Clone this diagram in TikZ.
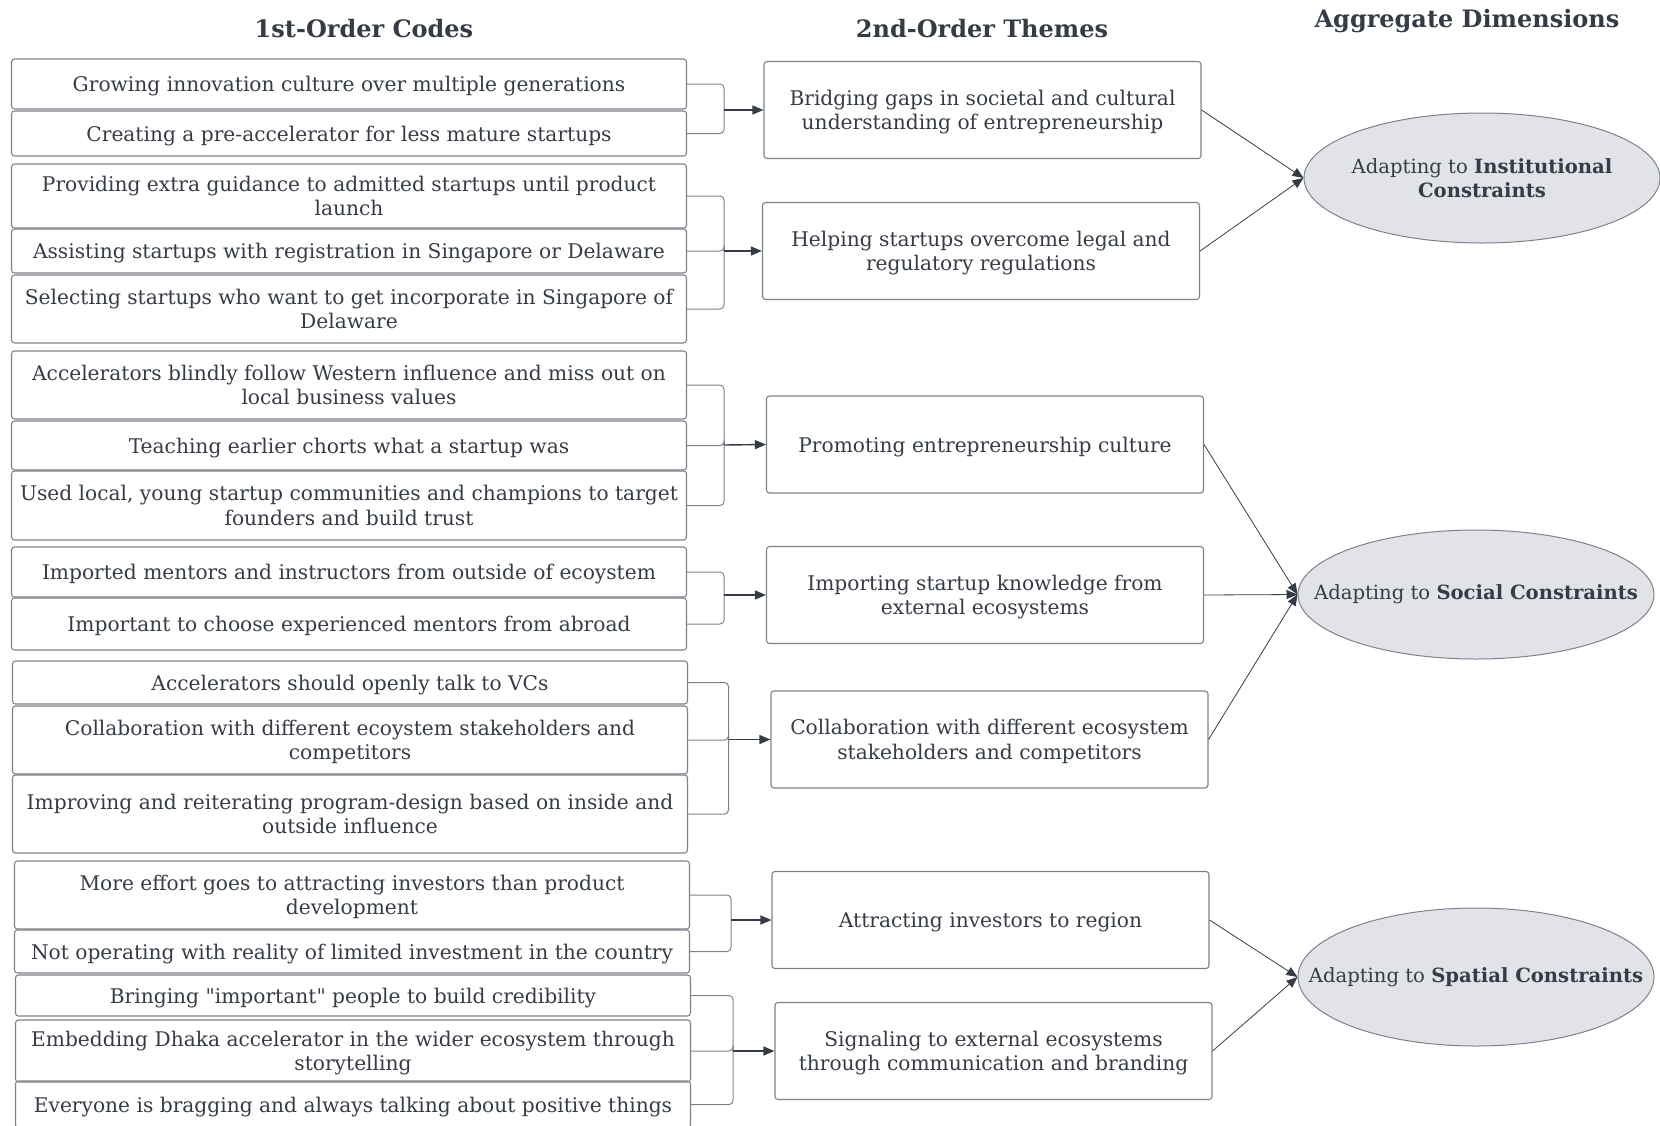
\documentclass[tikz,border=0pt]{standalone}
\usepackage{fontspec}
\setmainfont{DejaVu Serif}
\usetikzlibrary{
	arrows.meta,
	shapes.geometric,
	positioning
}
\definecolor{InkGray}{HTML}{363C45}
\definecolor{EdgeGray}{HTML}{7D828A}
\definecolor{FillGray}{HTML}{E1E3E8}
\newcommand{\boxfont}{\fontsize{20.2}{24.5}\selectfont}
\newcommand{\dimfont}{\fontsize{19.6}{24.5}\selectfont}
\newcommand{\headfont}{\fontsize{24}{28}\selectfont\bfseries}

\begin{document}
\begin{tikzpicture}[x=1pt, y=-1pt,
	code/.style={draw=EdgeGray, line width=1.1pt, rounded corners=3pt, minimum width=675pt,
		inner sep=0pt, text depth=0pt, align=center, text=InkGray, font=\boxfont},
	theme/.style={code, minimum width=437pt, minimum height=97pt},
	dimbox/.style={ellipse, draw=EdgeGray, line width=1pt, fill=FillGray, minimum width=356pt,
		inner sep=-60pt, align=center, text=InkGray, font=\dimfont},
	head/.style={text=InkGray, font=\headfont},
	bracket/.style={draw=EdgeGray, line width=1pt, rounded corners=4pt},
	feed/.style={draw=InkGray, line width=1.4pt, -{Triangle[length=11pt, width=9pt]}},
	link/.style={draw=InkGray, line width=0.8pt, -{Triangle[length=11pt, width=9pt]}}
]
	\useasboundingbox (0,0) rectangle (1660,1125);
	\clip (0,0) rectangle (1660,1125);

	% column headings
	\node[head] (h1) at (364,29) {1st-Order Codes};
	\node[head] (h2) at (982,29) {2nd-Order Themes};
	\node[head] (h3) at (1467,21) {Aggregate Dimensions};

	% 1st-order codes
	\node[code, minimum height=50pt] (c1) at (349,84) {Growing innovation culture over multiple generations};
	\node[code, minimum height=45pt] (c2) at (349,133.5) {Creating a pre-accelerator for less mature startups};
	\node[code, minimum height=64pt] (c3) at (349,196) {Providing extra guidance to admitted startups until product\\launch};
	\node[code, minimum height=44pt] (c4) at (349,251) {Assisting startups with registration in Singapore or Delaware};
	\node[code, minimum height=68pt] (c5) at (349,309) {Selecting startups who want to get incorporate in Singapore of\\Delaware};
	\node[code, minimum height=68pt] (c6) at (349,385) {Accelerators blindly follow Western influence and miss out on\\local business values};
	\node[code, minimum height=49pt] (c7) at (349,445.5) {Teaching earlier chorts what a startup was};
	\node[code, minimum height=69pt] (c8) at (349,505.5) {Used local, young startup communities and champions to target\\founders and build trust};
	\node[code, minimum height=50pt] (c9) at (349,572) {Imported mentors and instructors from outside of ecoystem};
	\node[code, minimum height=52pt] (c10) at (349,624) {Important to choose experienced mentors from abroad};
	\node[code, minimum height=43pt] (c11) at (350,682.5) {Accelerators should openly talk to VCs};
	\node[code, minimum height=68pt] (c12) at (350,740) {Collaboration with different ecoystem stakeholders and\\competitors};
	\node[code, minimum height=78pt] (c13) at (350,814) {Improving and reiterating program-design based on inside and\\outside influence};
	\node[code, minimum height=68pt] (c14) at (352,895) {More effort goes to attracting investors than product\\development};
	\node[code, minimum height=43pt] (c15) at (352,951.5) {Not operating with reality of limited investment in the country};
	\node[code, minimum height=41pt] (c16) at (353,995.5) {Bringing \textquotedbl important\textquotedbl{} people to build credibility};
	\node[code, minimum height=62pt] (c17) at (353,1051) {Embedding Dhaka accelerator in the wider ecosystem through\\storytelling};
	\node[code, minimum height=47pt] (c18) at (353,1104.5) {Everyone is bragging and always talking about positive things};

	% 2nd-order themes
	\node[theme] (t1) at (982.5,110) {Bridging gaps in societal and cultural\\understanding of entrepreneurship};
	\node[theme] (t2) at (981,251) {Helping startups overcome legal and\\regulatory regulations};
	\node[theme] (t3) at (985,444.5) {Promoting entrepreneurship culture};
	\node[theme] (t4) at (985,595) {Importing startup knowledge from\\external ecosystems};
	\node[theme] (t5) at (989.5,739.5) {Collaboration with different ecosystem\\stakeholders and competitors};
	\node[theme] (t6) at (990.5,920) {Attracting investors to region};
	\node[theme] (t7) at (993.5,1051) {Signaling to external ecosystems\\through communication and branding};

	% aggregate dimensions
	\node[dimbox, minimum height=130pt] (e1) at (1482,178) {Adapting to \textbf{Institutional}\\\textbf{Constraints}};
	\node[dimbox, minimum height=129pt] (e2) at (1476,594.5) {Adapting to \textbf{Social Constraints}};
	\node[dimbox, minimum height=138pt] (e3) at (1476,977) {Adapting to \textbf{Spatial Constraints}};

	% brackets from codes to themes
	\coordinate (j1) at (724,110);
	\coordinate (j2) at (724,251);
	\coordinate (j3) at (724,445);
	\coordinate (j4) at (724,595);
	\coordinate (j5) at (728.5,739.5);
	\coordinate (j6) at (731,920);
	\coordinate (j7) at (733,1051);

	\foreach \c in {c1,c2} \draw[bracket] (\c.east) -| (j1);
	\foreach \c in {c3,c4,c5} \draw[bracket] (\c.east) -| (j2);
	\foreach \c in {c6,c7,c8} \draw[bracket] (\c.east) -| (j3);
	\foreach \c in {c9,c10} \draw[bracket] (\c.east) -| (j4);
	\foreach \c in {c11,c12,c13} \draw[bracket] (\c.east) -| (j5);
	\foreach \c in {c14,c15} \draw[bracket] (\c.east) -| (j6);
	\foreach \c in {c16,c17,c18} \draw[bracket] (\c.east) -| (j7);

	\foreach \j/\t in {j1/t1,j2/t2,j3/t3,j4/t4,j5/t5,j6/t6,j7/t7}
		\draw[feed] (\j) -- (\t.west);

	% themes to dimensions
	\foreach \t in {t1,t2} \draw[link] (\t.east) -- (e1.west);
	\foreach \t in {t3,t4,t5} \draw[link] (\t.east) -- (e2.west);
	\foreach \t in {t6,t7} \draw[link] (\t.east) -- (e3.west);
\end{tikzpicture}
\end{document}
